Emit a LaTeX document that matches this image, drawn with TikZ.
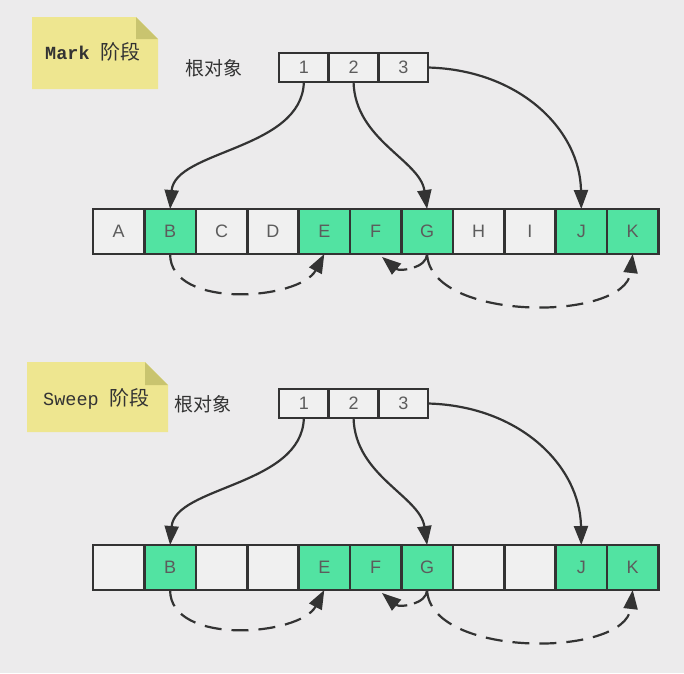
\documentclass[tikz,border=0pt]{standalone}
\usepackage{fontspec}
\setmainfont{Liberation Sans}
\newfontfamily\cjk{Noto Sans CJK SC}
\newfontfamily\monof{Liberation Mono}
\usetikzlibrary{arrows.meta}
\definecolor{bg}{HTML}{ECEBEC}
\definecolor{grn}{HTML}{52E3A2}
\definecolor{wcell}{HTML}{F0F0F0}
\definecolor{note}{HTML}{EEE690}
\definecolor{fold}{HTML}{C9C46F}
\definecolor{ink}{HTML}{333333}
\tikzset{
  cellw/.style={draw=ink, line width=2.6pt, fill=wcell, minimum width=51.4pt, minimum height=45pt, inner sep=0pt, outer sep=0pt, font=\fontsize{18}{18}\selectfont, text=ink!80},
  cellg/.style={cellw, fill=grn},
  rootc/.style={draw=ink, line width=2.6pt, fill=wcell, minimum width=49.7pt, minimum height=29pt, inner sep=0pt, outer sep=0pt, font=\fontsize{18}{18}\selectfont, text=ink!80},
  tipa/.style={-{Triangle[length=19pt,width=14pt]}},
  solidarr/.style={draw=ink, line width=2.2pt, tipa},
  dasharr/.style={draw=ink, line width=2.2pt, dash pattern=on 17pt off 10pt, tipa},
  shortdash/.style={draw=ink, line width=2.2pt, dash pattern=on 20pt off 7pt, tipa},
  lbl/.style={font=\cjk\fontsize{19}{19}\selectfont, text=ink},
}
\begin{document}
\begin{tikzpicture}[x=1pt,y=-1pt]
\fill[bg] (0,0) rectangle (684,673);
\useasboundingbox (0,0) rectangle (684,673);

% ---------- Mark phase ----------
\fill[note] (32,17) -- (136,17) -- (158,39) -- (158,89) -- (32,89) -- cycle;
\fill[fold] (136,17) -- (158,39) -- (136,39) -- cycle;
\node[text=ink, anchor=west, inner sep=0pt] (mk) at (45,52) {{\monof\bfseries\fontsize{18.5}{18}\selectfont Mark}\hspace{11pt}{\cjk\fontsize{20}{20}\selectfont 阶段}};
\node[lbl] (r1lbl) at (214,68) {根对象};

\foreach \i/\t in {1/1,2/2,3/3}
  \node[rootc] (ra\i) at (279+24.85+49.7*\i-49.7,67.5) {\t};

\foreach \i/\t/\s in {1/A/cellw,2/B/cellg,3/C/cellw,4/D/cellw,5/E/cellg,6/F/cellg,7/G/cellg,8/H/cellw,9/I/cellw,10/J/cellg,11/K/cellg}
  \node[\s] (a\i) at (93+25.7+51.4*\i-51.4,231.5) {\t};

\draw[solidarr] (ra1.south) .. controls (302,150) and (175,150) .. (a2.north);
\draw[solidarr] (ra2.south) .. controls (355,140) and (420,160) .. (a7.north);
\draw[solidarr] (ra3.east) .. controls (520,70) and (580,130) .. (a10.north);

\draw[dasharr] (a2.south) .. controls (170,310) and (300,300) .. (a5.south);
\coordinate (fa) at (382,257);
\draw[shortdash] (a7.south) .. controls (427,268) and (400,272) .. (fa);
\draw[dasharr] (a7.south) .. controls (430,322) and (625,322) .. (a11.south);

% ---------- Sweep phase ----------
\fill[note] (27,362) -- (145,362) -- (168,385) -- (168,432) -- (27,432) -- cycle;
\fill[fold] (145,362) -- (168,385) -- (145,385) -- cycle;
\node[text=ink, anchor=west, inner sep=0pt] (sw) at (43,399) {{\monof\fontsize{18.5}{18}\selectfont Sweep}\hspace{11pt}{\cjk\fontsize{20}{20}\selectfont 阶段}};
\node[lbl] (r2lbl) at (203,404) {根对象};

\foreach \i/\t in {1/1,2/2,3/3}
  \node[rootc] (rb\i) at (279+24.85+49.7*\i-49.7,403.5) {\t};

\foreach \i/\t/\s in {1//cellw,2/B/cellg,3//cellw,4//cellw,5/E/cellg,6/F/cellg,7/G/cellg,8//cellw,9//cellw,10/J/cellg,11/K/cellg}
  \node[\s] (b\i) at (93+25.7+51.4*\i-51.4,567.5) {\t};

\draw[solidarr] (rb1.south) .. controls (302,486) and (175,486) .. (b2.north);
\draw[solidarr] (rb2.south) .. controls (355,476) and (420,496) .. (b7.north);
\draw[solidarr] (rb3.east) .. controls (520,406) and (580,466) .. (b10.north);

\draw[dasharr] (b2.south) .. controls (170,646) and (300,636) .. (b5.south);
\coordinate (fb) at (382,593);
\draw[shortdash] (b7.south) .. controls (427,604) and (400,608) .. (fb);
\draw[dasharr] (b7.south) .. controls (430,658) and (625,658) .. (b11.south);
\end{tikzpicture}
\end{document}
